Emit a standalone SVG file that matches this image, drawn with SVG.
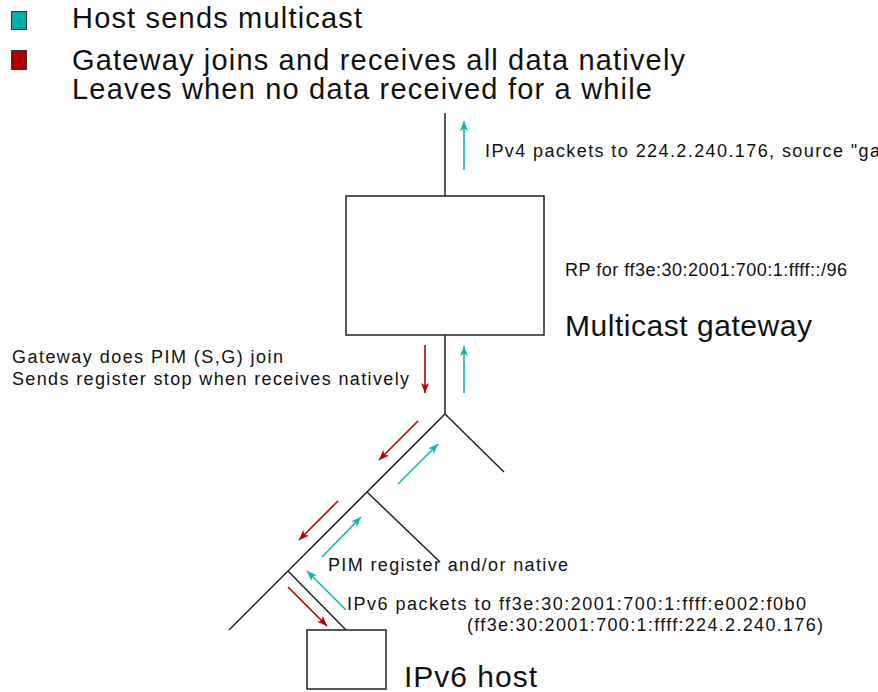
<svg xmlns="http://www.w3.org/2000/svg" width="878" height="692" viewBox="0 0 878 692">
<style>
.ln{stroke:#222;stroke-width:1.5;fill:none}
.box{stroke:#222;stroke-width:1.5;fill:#fff}
.ac{stroke:#12b4b4;stroke-width:1.6;fill:none;marker-end:url(#hc)}
.ar{stroke:#b00000;stroke-width:1.6;fill:none;marker-end:url(#hr)}
.t{font-family:"Liberation Sans",Arial,sans-serif;fill:#111}
.lg{font-size:29px}
.sm{font-size:18px}
.bg{font-size:30px}
</style>
<defs>
<marker id="hc" markerUnits="userSpaceOnUse" markerWidth="12" markerHeight="10" refX="10" refY="5" orient="auto"><path d="M0,1 L10,5 L0,9 L2.5,5 z" fill="#12b4b4"/></marker>
<marker id="hr" markerUnits="userSpaceOnUse" markerWidth="12" markerHeight="10" refX="10" refY="5" orient="auto"><path d="M0,1 L10,5 L0,9 L2.5,5 z" fill="#b00000"/></marker>
</defs>
<rect width="878" height="692" fill="#fff"/>
<g id="legend">
<rect x="11.5" y="11.5" width="15" height="18" fill="#00aeae" stroke="#333" stroke-width="1"/>
<rect x="11.5" y="50.5" width="15" height="19" fill="#b00000" stroke="#333" stroke-width="1"/>
<text class="t lg" x="72" y="28" textLength="290" lengthAdjust="spacing">Host sends multicast</text>
<text class="t lg" x="72" y="70" textLength="613" lengthAdjust="spacing">Gateway joins and receives all data natively</text>
<text class="t lg" x="72" y="99" textLength="580" lengthAdjust="spacing">Leaves when no data received for a while</text>
</g>
<g id="connectors">
<line class="ln" x1="445" y1="113" x2="445" y2="196"/>
<line class="ln" x1="445" y1="335" x2="445" y2="414"/>
<line class="ln" x1="445" y1="414" x2="504" y2="472"/>
<line class="ln" x1="445" y1="414" x2="229" y2="630"/>
<line class="ln" x1="367" y1="492" x2="440" y2="562"/>
<line class="ln" x1="288" y1="571" x2="346" y2="630"/>
<line class="ac" x1="464" y1="170" x2="464" y2="121"/>
<line class="ar" x1="425" y1="345" x2="425" y2="393"/>
<line class="ac" x1="464" y1="393" x2="464" y2="346"/>
<line class="ar" x1="418" y1="421" x2="379" y2="460"/>
<line class="ac" x1="398" y1="484" x2="438" y2="444"/>
<line class="ar" x1="338" y1="501" x2="299" y2="540"/>
<line class="ac" x1="322" y1="557" x2="361" y2="517"/>
<line class="ac" x1="346" y1="610" x2="307" y2="571"/>
<line class="ar" x1="288" y1="587" x2="327" y2="626"/>
</g>
<g id="gateway">
<rect class="box" x="346" y="196" width="198" height="139"/>
<text class="t bg" x="565" y="336" textLength="247" lengthAdjust="spacing">Multicast gateway</text>
<text class="t sm" x="565" y="276" textLength="282" lengthAdjust="spacing">RP for ff3e:30:2001:700:1:ffff::/96</text>
</g>
<g id="host">
<rect class="box" x="307" y="630" width="79" height="59"/>
<text class="t bg" x="404" y="687" textLength="133" lengthAdjust="spacing">IPv6 host</text>
</g>
<g id="labels">
<text class="t sm" x="485" y="157" textLength="395" lengthAdjust="spacing">IPv4 packets to 224.2.240.176, source "ga</text>
<text class="t sm" x="12" y="363" textLength="271" lengthAdjust="spacing">Gateway does PIM (S,G) join</text>
<text class="t sm" x="12" y="385" textLength="397" lengthAdjust="spacing">Sends register stop when receives natively</text>
<text class="t sm" x="328" y="571" textLength="240" lengthAdjust="spacing">PIM register and/or native</text>
<text class="t sm" x="347" y="610" textLength="459" lengthAdjust="spacing">IPv6 packets to ff3e:30:2001:700:1:ffff:e002:f0b0</text>
<text class="t sm" x="467" y="631" textLength="356" lengthAdjust="spacing">(ff3e:30:2001:700:1:ffff:224.2.240.176)</text>
</g>
</svg>
